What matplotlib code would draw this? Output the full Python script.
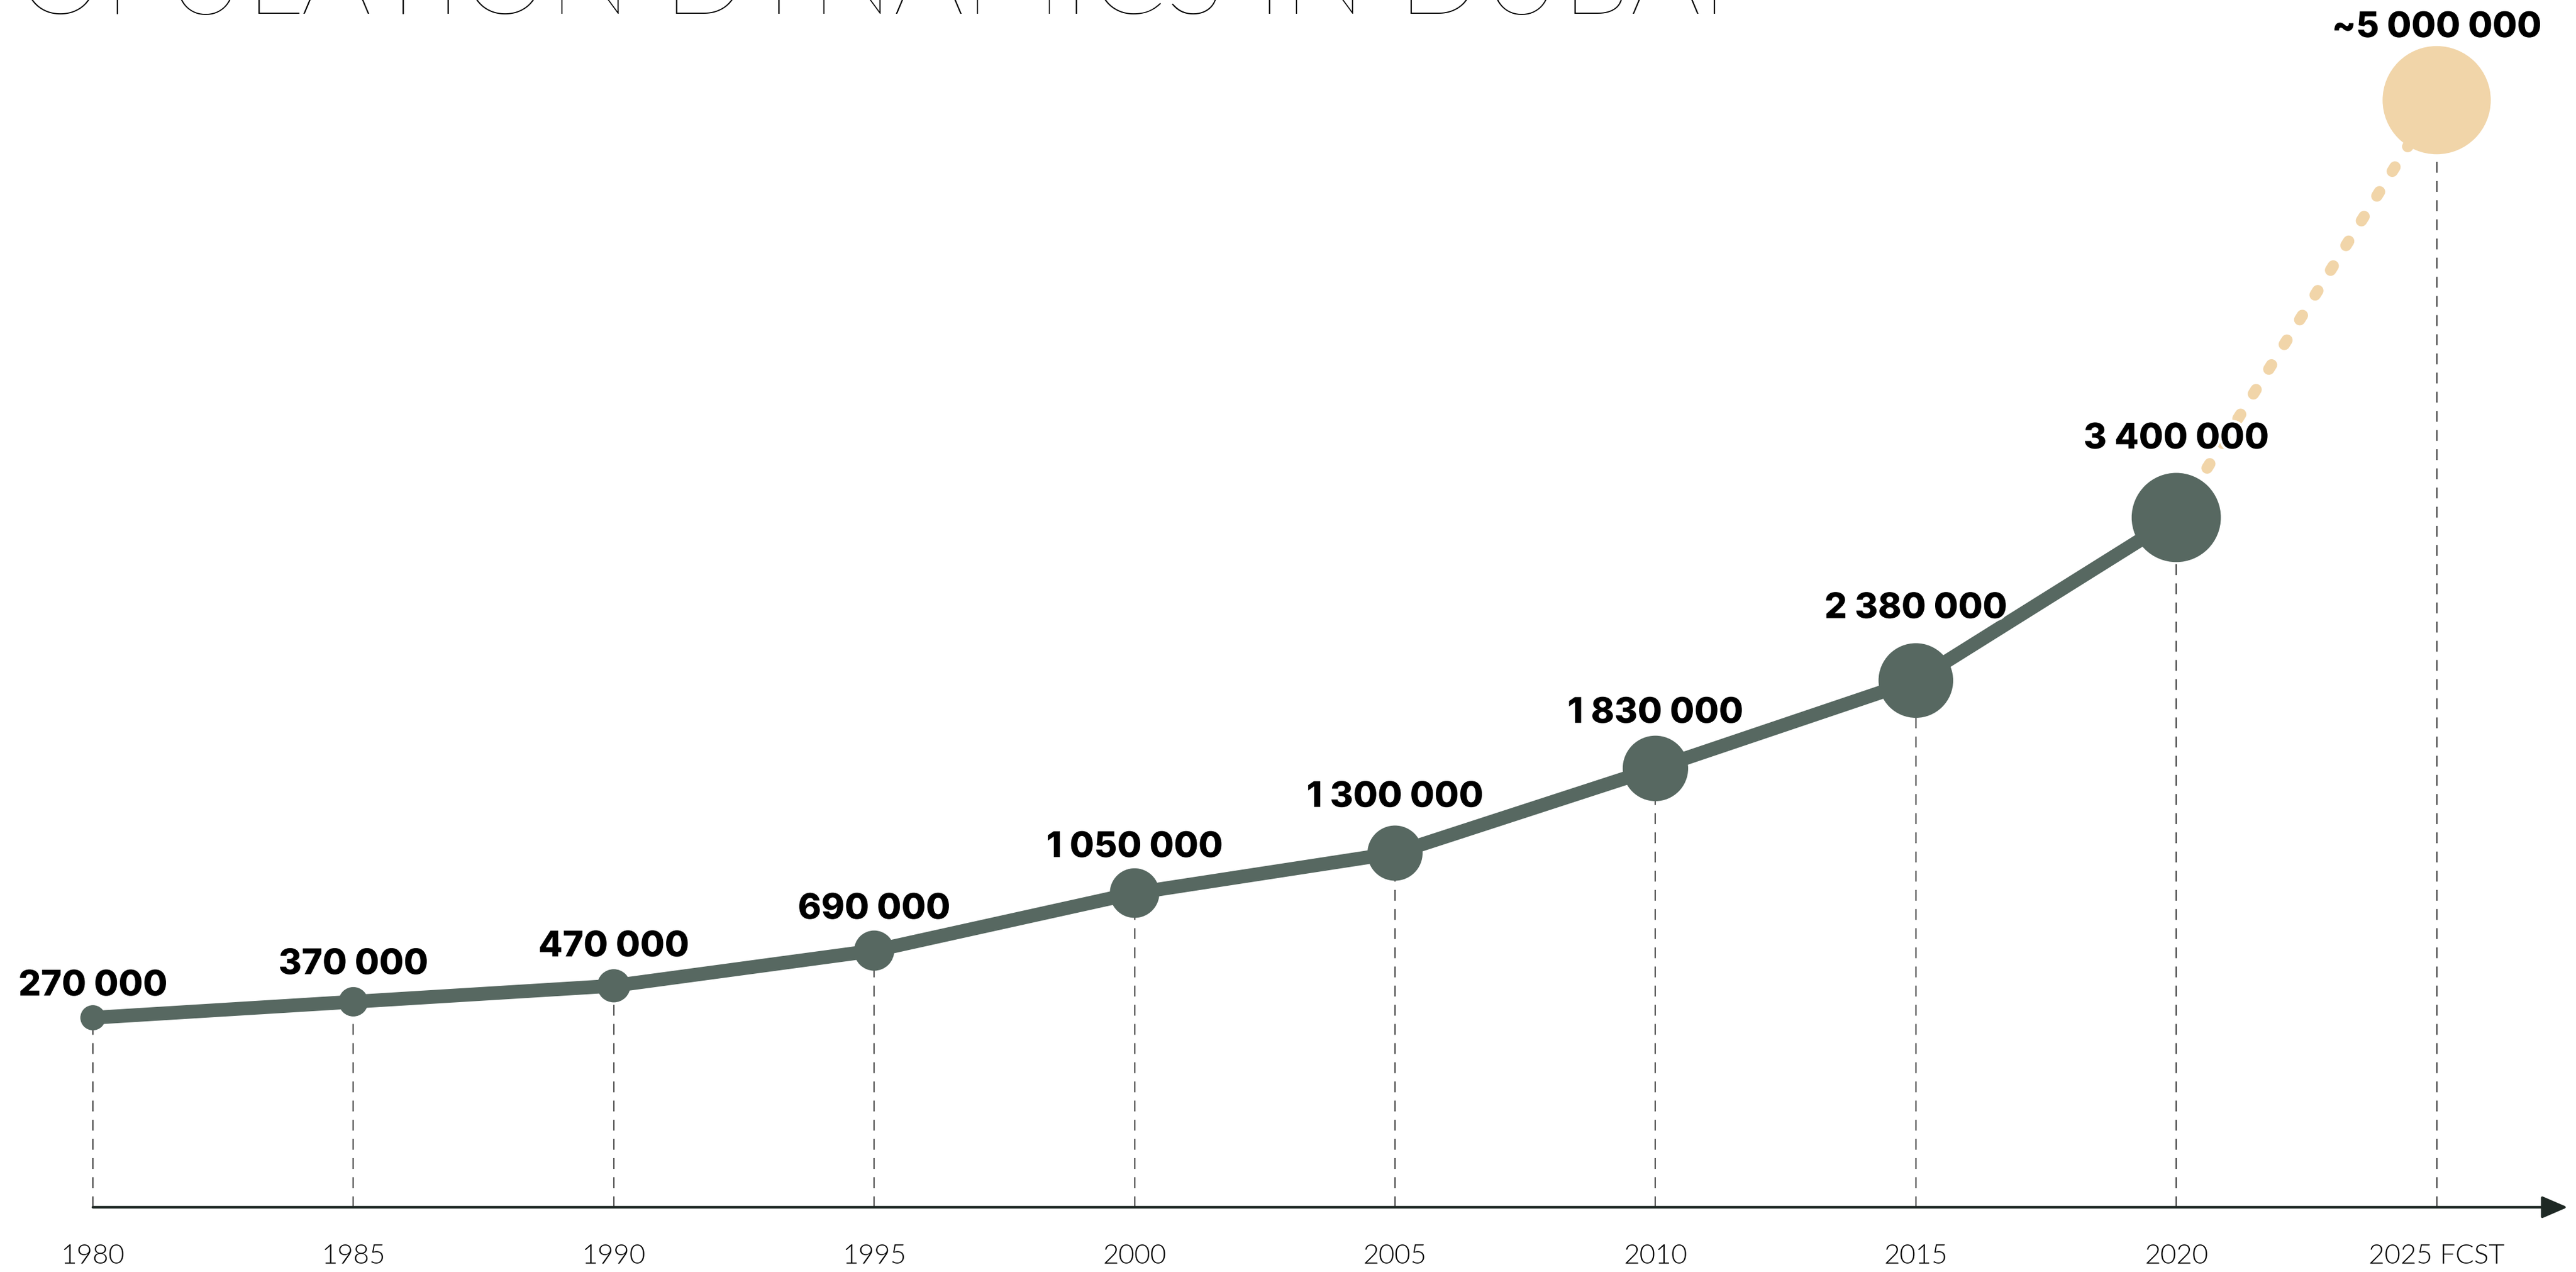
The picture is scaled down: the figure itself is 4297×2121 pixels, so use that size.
import numpy as np
import matplotlib
matplotlib.use("Agg")
import matplotlib.pyplot as plt
from matplotlib import patheffects
from matplotlib.ticker import NullLocator

# population of Dubai, census / estimate years
years = [1980, 1985, 1990, 1995, 2000, 2005, 2010, 2015, 2020]
population = [270000, 370000, 470000, 690000, 1050000, 1300000, 1830000, 2380000, 3400000]
forecast_year = 2025
forecast_population = 5000000
tick_labels = ["1980", "1985", "1990", "1995", "2000", "2005", "2010", "2015", "2020", "2025 FCST"]
title = "POPULATION DYNAMICS IN DUBAI"

GREEN = "#576861"
SAND = "#F1D5A9"
DARK = "#1E2824"
DPI = 100
W, H = 4297, 2121

# pixel geometry of the canvas
X0_PX, PX_PER_YEAR = 155, 86.88
ZERO_PX, PX_PER_MILLION, AXIS_PX = 1769, 266.5, 2013

# the forecast part of the value axis is stretched
SPLIT, STRETCH = 3400000, 1.632


def fwd(v):
    v = np.asarray(v, dtype=float)
    return np.where(v <= SPLIT, v, SPLIT + (v - SPLIT) * STRETCH)


def inv(t):
    t = np.asarray(t, dtype=float)
    return np.where(t <= SPLIT, t, SPLIT + (t - SPLIT) / STRETCH)


def fmt(v):
    return f"{v:,}".replace(",", " ")


all_years = years + [forecast_year]
all_values = population + [forecast_population]
value_labels = [fmt(v) for v in population] + ["~" + fmt(forecast_population)]
label_lift_px = [37, 46, 49, 53, 60, 77, 76, 104, 115, 105]

plt.rcParams["lines.scale_dashes"] = False

fig = plt.figure(figsize=(W / DPI, H / DPI), dpi=DPI, facecolor="white")
ax = fig.add_axes([0, (H - AXIS_PX) / H, 1, AXIS_PX / H])
ax.set_yscale("function", functions=(fwd, inv))
ax.set_xlim(1980 - X0_PX / PX_PER_YEAR, 1980 + (W - X0_PX) / PX_PER_YEAR)
y_bottom = (ZERO_PX - AXIS_PX) / PX_PER_MILLION * 1e6
y_top = float(inv(ZERO_PX / PX_PER_MILLION * 1e6))
ax.set_ylim(y_bottom, y_top)
ax.set_facecolor("none")
for s in ax.spines.values():
    s.set_visible(False)
ax.yaxis.set_major_locator(NullLocator())
ax.yaxis.set_minor_locator(NullLocator())
ax.tick_params(axis="y", left=False, labelleft=False)

# guide lines down to the time axis
ax.vlines(all_years, y_bottom, all_values, colors="#444444", lw=1.5,
          linestyles=[(0, (13, 10))], zorder=1)

# forecast, dotted
ax.plot([years[-1], forecast_year], [population[-1], forecast_population],
        color=SAND, lw=13.7, linestyle=(0, (6, 29)), dash_capstyle="round", zorder=2)

ax.plot(years, population, color=GREEN, lw=16.5, solid_capstyle="butt",
        solid_joinstyle="round", zorder=3)

# marker area follows the population
area = np.array(all_values) * 0.003376
colors = [GREEN] * len(years) + [SAND]
ax.scatter(all_years, all_values, s=area, c=colors, linewidths=0, zorder=4)

halo = [patheffects.withStroke(linewidth=6, foreground="white")]
for x, v, lab, lift in zip(all_years, all_values, value_labels, label_lift_px):
    ax.annotate(lab, (x, v), xytext=(0, lift), textcoords="offset pixels",
                ha="center", va="baseline", fontsize=42.5, fontweight=800,
                family="Inter", color="black", zorder=6, path_effects=halo)

# time axis with arrow
x_tip = 1980 + (4283 - X0_PX) / PX_PER_YEAR
ax.annotate("", xy=(x_tip, y_bottom), xytext=(1980, y_bottom),
            arrowprops=dict(arrowstyle="-|>,head_length=0.44,head_width=0.19",
                            mutation_scale=60, lw=3.2, color=DARK,
                            shrinkA=0, shrinkB=0),
            annotation_clip=False, zorder=5)

ax.set_xticks(all_years, tick_labels)
ax.tick_params(axis="x", length=0, pad=44, labelsize=33, labelcolor="black")
for t in ax.get_xticklabels():
    t.set_fontfamily("Lato")
    t.set_fontweight(300)

# title, sized so the visible part spans the top edge
renderer = fig.canvas.get_renderer()
probe = fig.text(0, 0, title[1:], fontsize=100, family="Lato", fontweight=100)
probe_w = probe.get_window_extent(renderer).width
probe.remove()
title_size = 100 * (2882 - 28) / probe_w
fig.text(2882 / W, 1 - 23 / H, title, ha="right", va="baseline",
         fontsize=title_size, family="Lato", fontweight=100, color="black")

fig.savefig("out.png", dpi=DPI, facecolor="white")
